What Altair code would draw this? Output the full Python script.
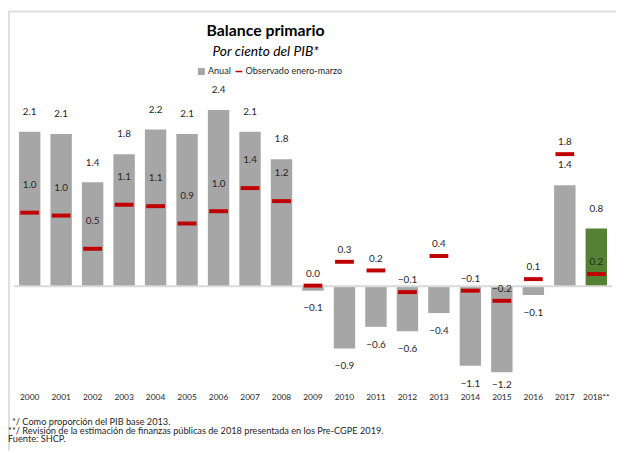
import altair as alt
import pandas as pd

years = ["2000", "2001", "2002", "2003", "2004", "2005", "2006", "2007", "2008", "2009",
         "2010", "2011", "2012", "2013", "2014", "2015", "2016", "2017", "2018**"]
anual = [2.14, 2.11, 1.44, 1.83, 2.17, 2.11, 2.44, 2.14, 1.76, -0.06,
         -0.86, -0.56, -0.62, -0.37, -1.10, -1.19, -0.12, 1.40, 0.80]
observado = [1.02, 0.98, 0.52, 1.13, 1.11, 0.87, 1.04, 1.36, 1.18, 0.01,
             0.34, 0.22, -0.08, 0.42, -0.06, -0.20, 0.10, 1.83, 0.17]
series = ["Anual", "Observado enero-marzo"]
footnotes = [
    "*/ Como proporción del PIB base 2013.",
    "**/ Revisión de la estimación de finanzas públicas de 2018 presentada en los Pre-CGPE 2019.",
    "Fuente: SHCP.",
]

FONT = "Lato"
TXT = "#262626"
GRAY = "#a6a6a6"
RED = "#c00000"
GREEN = "#548235"
DASH = "M-1,-0.21H1V0.21H-1Z"
YMIN = -1.3

df = pd.DataFrame({"year": years, "anual": anual, "obs": observado})

xenc = alt.X("year:N", sort=years,
             scale=alt.Scale(paddingInner=0.32, paddingOuter=0.16),
             axis=alt.Axis(title=None, domain=False, ticks=False, grid=False, labelAngle=0,
                           labelFont=FONT, labelFontSize=8.5, labelColor=TXT, labelPadding=12))
yscale = alt.Scale(domain=[YMIN, 2.6], nice=False)
cscale = alt.Scale(domain=series, range=[GRAY, RED])
legend = alt.Legend(title=None, orient="none", legendX=185, legendY=-32, direction="horizontal",
                    labelFont=FONT, labelFontSize=9.2, labelColor=TXT, symbolSize=49,
                    columnPadding=3, labelOffset=2, symbolStrokeWidth=0)

base = alt.Chart(df)

bars = base.transform_calculate(serie="'Anual'").mark_bar().encode(
    x=xenc,
    y=alt.Y("anual:Q", scale=yscale, axis=None),
    color=alt.condition(alt.datum.year == "2018**", alt.value(GREEN),
                        alt.Color("serie:N", scale=cscale, legend=legend)),
)

zero = alt.Chart(pd.DataFrame({"z": [0]})).mark_rule(color="#d9d9d9", strokeWidth=2).encode(
    y=alt.Y("z:Q", scale=yscale, axis=None)
)

marks = base.transform_calculate(serie="'Observado enero-marzo'").mark_point(
    filled=True, opacity=1, size=361, strokeWidth=0
).encode(
    x=xenc,
    y=alt.Y("obs:Q", scale=yscale, axis=None),
    color=alt.Color("serie:N", scale=cscale, legend=legend),
    shape=alt.Shape("serie:N", scale=alt.Scale(domain=series, range=["square", DASH]), legend=legend),
)

txt = dict(font=FONT, fontSize=10, color=TXT, baseline="middle")
lab_pos = base.transform_filter("datum.anual >= 0").mark_text(dy=-20, **txt).encode(
    x=xenc, y=alt.Y("anual:Q", scale=yscale), text=alt.Text("anual:Q", format=".1f"))
# negative labels sit below the bar end, but are kept inside the plot area (as in the source)
lab_neg = base.transform_filter("datum.anual < 0").transform_calculate(
    ylab="max(datum.anual, -1.12)"
).mark_text(dy=18, **txt).encode(
    x=xenc, y=alt.Y("ylab:Q", scale=yscale), text=alt.Text("anual:Q", format=".1f"))
lab_obs1 = base.transform_filter(alt.FieldOneOfPredicate(field="year", oneOf=years[:9])).mark_text(
    dy=-28, **txt).encode(x=xenc, y=alt.Y("obs:Q", scale=yscale), text=alt.Text("obs:Q", format=".1f"))
lab_obs2 = base.transform_filter(alt.FieldOneOfPredicate(field="year", oneOf=years[9:])).mark_text(
    dy=-12, **txt).encode(x=xenc, y=alt.Y("obs:Q", scale=yscale), text=alt.Text("obs:Q", format=".1f"))

notes = []
for i, (xv, yv) in enumerate([(-2, 327), (-6, 336), (-6, 344.5)]):
    notes.append(
        alt.Chart(pd.DataFrame({"t": [footnotes[i]]})).mark_text(
            align="left", baseline="middle", font=FONT, fontSize=9.3, color=TXT
        ).encode(x=alt.value(xv), y=alt.value(yv), text="t:N")
    )

frame_top = alt.Chart(pd.DataFrame({"a": [0]})).mark_rule(color="#dedede", strokeWidth=2).encode(
    x=alt.value(-6), x2=alt.value(609), y=alt.value(-88))
frame_left = alt.Chart(pd.DataFrame({"a": [0]})).mark_rule(color="#dedede", strokeWidth=2).encode(
    x=alt.value(-5), y=alt.value(-88), y2=alt.value(356))

chart = alt.layer(
    frame_top, frame_left, bars, zero, marks, lab_pos, lab_neg, lab_obs1, lab_obs2, *notes
).properties(
    width=605, height=285,
    padding={"left": 6, "top": 89, "right": 4, "bottom": 70},
    autosize=alt.AutoSizeParams(type="none"),
    title=alt.TitleParams(
        text="Balance primario", subtitle="Por ciento del PIB*",
        font=FONT, fontSize=16, fontWeight="bold", color="#000000",
        subtitleFont=FONT, subtitleFontSize=14, subtitleFontStyle="italic", subtitleColor="#000000",
        anchor="middle", dx=-48, offset=-49, subtitlePadding=6,
    ),
).configure_view(stroke=None)

chart.save("out.html", embed_options={"renderer": "svg", "actions": False})
